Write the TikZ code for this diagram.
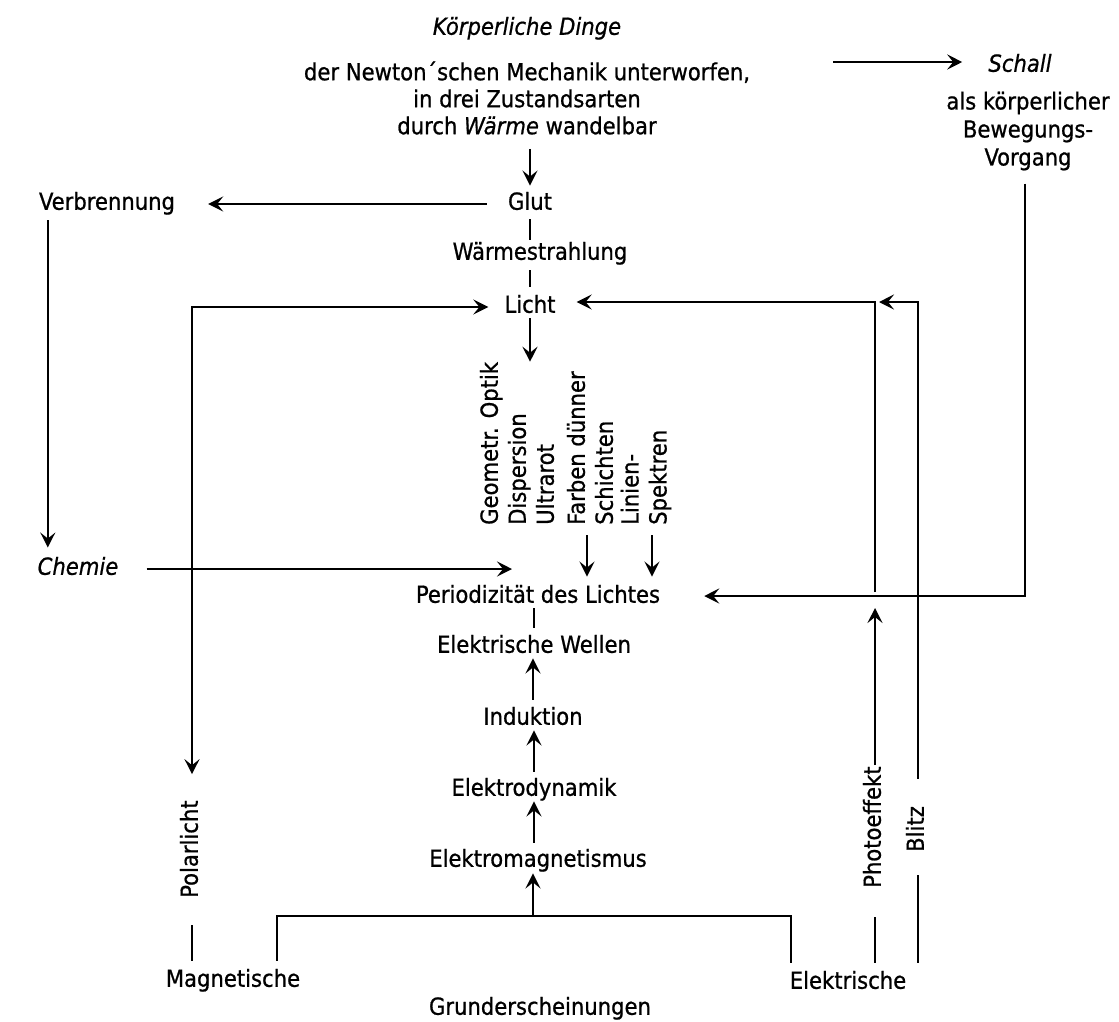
\documentclass[tikz,border=0pt]{standalone}
\usepackage{fontspec}
\setmainfont{DejaVu Sans Condensed}[FakeBold=0.8]
\usetikzlibrary{arrows.meta}
\begin{document}
\begin{tikzpicture}[x=1pt,y=-1pt,
  every node/.style={inner sep=0pt, font=\fontsize{23.5}{28}\selectfont},
  lbl/.style={text height=17pt, text depth=5.5pt},
  vlab/.style={rotate=90, anchor=west, align=left},
  conn/.style={line width=2.1pt},
  tip/.tip={Stealth[length=15pt,width=15pt,inset=6pt]},
  arr/.style={conn, -tip},
  biarr/.style={conn, tip-tip}
]
\useasboundingbox (0,0) rectangle (1119,1021);

% nodes
\node[lbl] (koerper) at (527,29) {\textit{Körperliche Dinge}};
\node[align=center, font=\fontsize{23.5}{27}\selectfont] (newton) at (527,98) {der Newton´schen Mechanik unterworfen,\\in drei Zustandsarten\\durch \textit{Wärme} wandelbar};
\node[lbl] (schall) at (1020,66) {\textit{Schall}};
\node[align=center] (schalltext) at (1028,131) {als körperlicher\\Bewegungs-\\Vorgang};
\node[lbl] (glut) at (530,204) {Glut};
\node[lbl] (waerme) at (540,254) {Wärmestrahlung};
\node[lbl] (licht) at (530,307) {Licht};
\node[lbl] (verbrennung) at (107,204) {Verbrennung};
\node[lbl] (chemie) at (78,569) {\textit{Chemie}};
\node[lbl,vlab] (geo) at (492,525) {Geometr. Optik};
\node[lbl,vlab] (disp) at (520,525) {Dispersion};
\node[lbl,vlab] (ultra) at (548,525) {Ultrarot};
\node[vlab] (farben) at (590,525) {Farben dünner\\Schichten};
\node[vlab] (linien) at (646,525) {Linien-\\Spektren};
\node[lbl] (period) at (538,597) {Periodizität des Lichtes};
\node[lbl] (ewellen) at (534,647) {Elektrische Wellen};
\node[lbl] (induktion) at (533,719) {Induktion};
\node[lbl] (edyn) at (534,790) {Elektrodynamik};
\node[lbl] (emag) at (538,861) {Elektromagnetismus};
\node[lbl,vlab] (polar) at (192,898) {Polarlicht};
\node[lbl,vlab] (photo) at (875,888) {Photoeffekt};
\node[lbl,vlab] (blitz) at (918,852) {Blitz};
\node[lbl] (magnet) at (233,981) {Magnetische};
\node[lbl] (elektr) at (848,983) {Elektrische};
\node[lbl] (grund) at (540,1009) {Grunderscheinungen};

% helper coordinates
\coordinate (schallstart) at (833,62);
\coordinate (schallcorner) at (1025,596);
\coordinate (blitztop) at (918,302);
\coordinate (photojoin) at (875,302);
\coordinate (bracketL) at (277,916);
\coordinate (bracketR) at (791,916);
\coordinate (bracketM) at (533,916);

% top
\draw[arr, shorten >=26pt] (schallstart) -- (schallstart -| schall.west);
\draw[arr, shorten <=14pt, shorten >=7pt] (newton.south -| glut.north) -- (glut.north);
\draw[conn, shorten <=4pt, shorten >=3pt] (glut.south) -- (glut.south |- waerme.north);
\draw[conn, shorten <=5pt, shorten >=9pt] (waerme.south -| licht.north) -- (licht.north);
\draw[arr, shorten <=0pt] (licht.south) -- (licht.south |- geo.east);
\draw[arr, shorten <=21pt, shorten >=33pt] (glut.west) -- (verbrennung.east);
\draw[arr, shorten <=5pt, shorten >=10pt] ([xshift=9pt]verbrennung.south west) -- ([xshift=9pt]verbrennung.south west |- chemie.north);
\draw[arr, shorten <=28pt, shorten >=8pt] (chemie.east) -- (chemie.east -| disp.west);
\draw[biarr, shorten <=26pt, shorten >=16pt] (polar.east) |- (licht.west);

% optics to periodicity
\draw[arr, shorten <=10pt, shorten >=9pt] ([xshift=-3pt]farben.west) -- ([xshift=-3pt]farben.west |- period.north);
\draw[arr, shorten <=10pt, shorten >=9pt] ([xshift=6pt]linien.west) -- ([xshift=6pt]linien.west |- period.north);

% central column
\draw[conn, shorten <=0pt, shorten >=8pt] (period.south -| ewellen.north) -- (ewellen.north);
\draw[arr, shorten <=8pt] (induktion.north) -- (induktion.north |- ewellen.south);
\draw[arr, shorten <=7pt] (edyn.north) -- (edyn.north |- induktion.south);
\draw[arr, shorten <=7pt] (emag.north -| edyn.south) -- (edyn.south);
\draw[arr, shorten >=1pt] (bracketM) -- (bracketM |- emag.south);
\draw[conn, shorten <=9pt, shorten >=9pt] (magnet.north -| bracketL) -- (bracketL) -- (bracketR) -- (elektr.north -| bracketR);

% Polarlicht bottom
\draw[conn, shorten <=27pt, shorten >=9pt] (polar.west) -- (polar.west |- magnet.north);

% Schall
\draw[arr, shorten <=13pt, shorten >=44pt] (schalltext.south -| schallcorner) -- (schallcorner) -- (period.east |- schallcorner);

% Photoeffekt
\draw[conn, shorten <=29pt, shorten >=9pt] (photo.west) -- (photo.west |- elektr.north);
\draw[arr, shorten <=1pt, shorten >=12pt] (photo.east) -- (photo.east |- schallcorner);
\draw[arr, shorten <=4pt, shorten >=21pt] (photo.east |- schallcorner) -- (photojoin) -- (photojoin -| licht.east);

% Blitz
\draw[conn, shorten <=23pt, shorten >=9pt] (blitz.west) -- (blitz.west |- elektr.north);
\draw[arr, shorten <=27pt] (blitz.east) -- (blitztop) -- ([xshift=4pt]photojoin);
\end{tikzpicture}
\end{document}
